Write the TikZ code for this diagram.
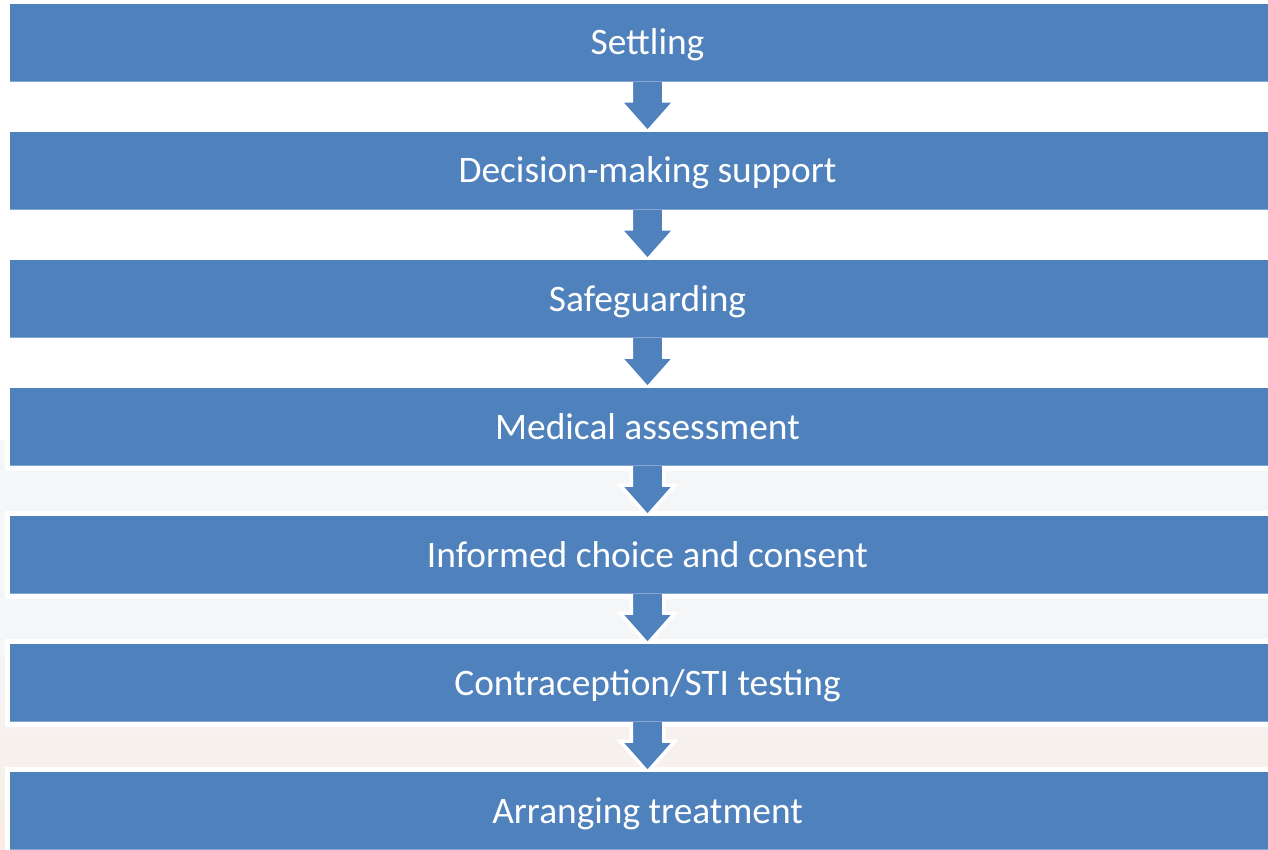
\documentclass[tikz,border=0pt]{standalone}
\usepackage{fontspec}
\setmainfont{Carlito}
\usetikzlibrary{calc}
\definecolor{stepblue}{HTML}{4F81BD}
\definecolor{stepedge}{HTML}{85A6D2}
\definecolor{hazegrey}{HTML}{F5F6F7}
\definecolor{hazepeach}{HTML}{F9ECE4}
\pgfdeclarelayer{frames}
\pgfdeclarelayer{arrows}
\pgfsetlayers{frames,arrows,main}
\begin{document}
\begin{tikzpicture}[x=1pt,y=-1pt,
  stepbox/.style={fill=stepblue, text=white, minimum width=1275pt,
    minimum height=78pt, inner sep=0pt, outer sep=0pt,
    text height=24pt, text depth=0pt,
    font=\fontsize{37.4}{42}\selectfont},
  frame/.style={fill=white},
  downarrow/.style={fill=stepblue, draw=white, line width=3.5pt, line join=miter}]
\useasboundingbox (0,0) rectangle (1268,850);

% the seven steps, one row every 128pt
\foreach \i/\label in {1/Settling, 2/Decision-making support, 3/Safeguarding,
    4/Medical assessment, 5/Informed choice and consent,
    6/Contraception\slash STI testing, 7/Arranging treatment} {
  \node[stepbox] (b\i) at (647.5, {43+128*(\i-1)}) {\label};
  \draw[stepedge, line width=1.2pt] ($(b\i.south west)+(0,0.6pt)$) -- ($(b\i.south east)+(0,0.6pt)$);
}

% page background, haze in the lower half, white frames round the boxes
\begin{pgfonlayer}{frames}
  \fill[white] (0,0) rectangle (1268,850);
  \shade[top color=hazegrey, bottom color=hazepeach, middle color=hazegrey]
    (0,440) rectangle (1268,850);
  \foreach \i in {1,...,7}
    \fill[frame] ($(b\i.north west)+(-5pt,5pt)$) rectangle ($(b\i.south east)+(5pt,-5pt)$);
\end{pgfonlayer}

% block arrows between consecutive steps
\begin{pgfonlayer}{arrows}
  \foreach \i/\j in {1/2,2/3,3/4,4/5,5/6,6/7}
    \filldraw[downarrow] let \p1=(b\i.south), \p2=(b\j.north) in
      (\x1-16.25pt,\y1+10pt) -- (\x1-16.25pt,\y1-19pt) -- (\x1-27.5pt,\y1-19pt)
      -- (\x2,\y2) -- (\x1+27.5pt,\y1-19pt) -- (\x1+16.25pt,\y1-19pt)
      -- (\x1+16.25pt,\y1+10pt) -- cycle;
\end{pgfonlayer}
\end{tikzpicture}
\end{document}
